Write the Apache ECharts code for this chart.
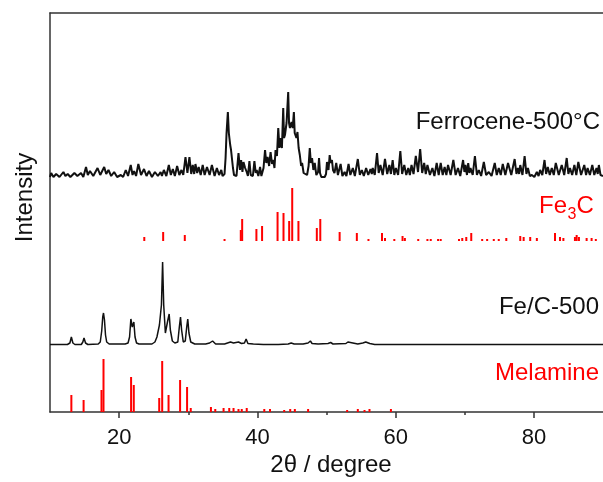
<!DOCTYPE html>
<html>
<head>
<meta charset="utf-8">
<script src="https://cdn.jsdelivr.net/npm/echarts@6/dist/echarts.min.js"></script>
<style>html,body{margin:0;padding:0;background:#fff}#c{width:603px;height:482px}</style>
</head>
<body>
<div id="c"></div>
<script>
// ---- data (2θ in degrees, intensity in arbitrary units above each pattern's own baseline) ----
const majorTicks = [20, 40, 60, 80];
const minorTicks = [30, 50, 70];

const ferroceneData = [[10.00,1],[10.07,2],[10.17,5],[10.50,1],[10.89,4],[11.37,1],[11.94,6],[12.23,2],[12.56,4],[12.95,1],[13.53,5],[13.96,2],[14.49,5],[14.82,1],[15.21,11],[15.47,3],[15.78,7],[16.26,2],[16.88,10],[17.27,3],[17.84,11],[18.13,4],[18.46,8],[18.85,2],[19.28,6],[19.71,1],[20.24,3],[20.58,1],[20.96,8],[21.29,2],[21.68,13],[21.94,3],[22.16,7],[22.45,2],[22.78,14],[23.17,3],[23.60,9],[23.96,2],[24.32,7],[24.75,1],[25.18,6],[25.61,2],[26.00,6],[26.19,2],[26.47,8],[26.83,2],[27.19,13],[27.48,3],[27.77,9],[28.06,2],[28.39,12],[28.71,3],[29.02,8],[29.28,3],[29.60,21],[29.88,5],[30.17,21],[30.43,4],[30.65,13],[30.86,4],[31.04,14],[31.29,5],[31.51,11],[31.80,3],[32.09,13],[32.37,3],[32.71,11],[33.09,3],[33.42,13],[33.81,2],[34.14,10],[34.46,3],[34.78,8],[34.96,2],[35.25,4],[35.40,20],[35.54,45],[35.73,66],[35.87,45],[36.07,33],[36.19,28],[36.30,26],[36.47,10],[36.62,3],[36.79,1],[36.98,2],[37.27,25],[37.48,8],[37.65,18],[37.84,6],[37.99,16],[38.23,10],[38.46,6],[38.63,2],[38.85,17],[39.04,3],[39.18,3],[39.35,2],[39.57,17],[39.76,5],[39.90,8],[40.14,2],[40.39,11],[40.58,2],[40.72,3],[40.89,10],[41.11,28],[41.29,15],[41.48,21],[41.70,12],[41.91,26],[42.12,14],[42.30,18],[42.47,10],[42.63,28],[42.83,22],[43.02,50],[43.19,30],[43.35,40],[43.55,30],[43.74,70],[43.86,40],[43.99,43],[44.22,55],[44.46,86],[44.58,55],[44.71,50],[44.82,50],[44.94,56],[45.11,50],[45.28,66],[45.40,45],[45.51,45],[45.65,40],[45.80,46],[45.97,30],[46.14,23],[46.33,12],[46.47,15],[46.69,5],[46.95,6],[47.19,3],[47.41,12],[47.58,30],[47.74,15],[47.91,20],[48.10,8],[48.30,15],[48.53,3],[48.78,6],[48.92,20],[49.06,5],[49.25,1],[49.50,2],[49.74,1],[49.93,4],[50.07,16],[50.29,8],[50.46,23],[50.60,15],[50.79,18],[50.94,8],[51.15,5],[51.41,15],[51.65,3],[52.04,14],[52.30,2],[52.62,6],[52.88,2],[53.19,14],[53.45,3],[53.81,10],[54.10,2],[54.53,19],[54.82,3],[55.11,8],[55.40,2],[55.73,10],[56.04,3],[56.36,9],[56.55,4],[56.69,10],[56.98,3],[57.31,25],[57.55,5],[57.80,13],[58.13,3],[58.46,19],[58.78,4],[59.09,13],[59.32,4],[59.57,18],[59.81,3],[60.04,10],[60.36,3],[60.68,27],[60.94,4],[61.25,13],[61.54,3],[61.83,10],[62.06,3],[62.30,13],[62.59,4],[62.92,22],[63.24,6],[63.55,29],[63.84,5],[64.13,15],[64.36,4],[64.60,13],[64.96,3],[65.32,10],[65.61,2],[65.94,15],[66.23,3],[66.52,15],[66.81,3],[67.09,11],[67.34,3],[67.58,13],[67.96,3],[68.35,18],[68.68,3],[69.02,10],[69.35,2],[69.76,18],[69.95,6],[70.11,13],[70.32,3],[70.50,15],[70.68,5],[70.83,10],[71.15,3],[71.47,22],[71.76,3],[72.04,8],[72.37,2],[72.76,16],[73.09,3],[73.48,6],[73.88,2],[74.34,15],[74.63,3],[74.92,10],[75.21,3],[75.50,14],[75.87,3],[76.26,15],[76.73,3],[77.22,19],[77.48,4],[77.70,10],[77.87,4],[78.03,13],[78.35,3],[78.66,22],[78.92,4],[79.14,10],[79.42,2],[79.71,3],[80.07,1],[80.43,6],[80.68,2],[80.91,8],[81.22,3],[81.54,18],[81.77,4],[82.01,11],[82.30,3],[82.59,10],[82.88,3],[83.17,15],[83.60,3],[84.03,13],[84.39,3],[84.75,20],[84.99,4],[85.22,10],[85.54,3],[85.86,13],[86.14,3],[86.43,16],[86.83,3],[87.29,13],[87.55,3],[87.77,10],[88.10,3],[88.45,13],[88.74,3],[89.06,10],[89.24,4],[89.40,13],[89.64,3],[90.00,2]];

const feC500Data = [[10.00,0.5],[12.52,0.5],[12.88,2],[13.09,8],[13.31,2],[13.60,0.5],[14.53,0.5],[14.75,3],[14.92,7],[15.14,2],[15.47,0.5],[16.98,1],[17.27,3],[17.48,14],[17.63,28],[17.74,32],[17.88,25],[18.03,10],[18.20,3],[18.56,1],[20.86,1],[21.29,2],[21.51,8],[21.70,26],[21.90,18],[22.13,23],[22.30,8],[22.52,2],[22.88,1],[24.75,1],[25.18,3],[25.47,8],[25.83,20],[26.12,40],[26.29,83],[26.45,40],[26.69,12],[26.91,10],[27.05,25],[27.24,31],[27.41,15],[27.70,4],[28.06,2],[28.49,3],[28.71,18],[28.88,28],[29.04,15],[29.28,3],[29.57,4],[29.78,18],[29.93,26],[30.10,12],[30.36,3],[30.94,1],[32.52,1],[33.09,2],[33.52,4],[33.96,1],[35.25,1],[35.68,2],[36.11,3],[36.55,2],[36.83,2],[37.27,3],[37.70,1.5],[38.13,2],[38.37,6],[38.63,1.5],[39.42,1],[40.86,0.5],[43.02,0.5],[44.46,1],[44.89,2],[45.32,1],[46.61,1],[47.33,2],[47.67,4],[47.91,1.5],[48.78,1],[50.22,1.5],[50.60,2.5],[50.94,1],[52.81,1.5],[53.10,3],[53.38,1],[54.53,1],[55.25,2],[55.68,3],[56.26,1.5],[56.98,0.5],[60.29,0.5],[66.04,0.5],[71.80,0.5],[77.55,0.5],[83.31,0.5],[90.00,0.5]];

const fe3cSticks = [[23.64,4],[26.37,9],[29.50,6],[35.25,2],[37.60,11],[37.80,22],[39.86,12],[40.68,15],[42.92,29],[43.78,28],[44.60,20],[45.04,53],[45.94,20],[48.60,13],[49.10,22],[51.90,9],[54.39,8],[56.07,2],[58.03,8],[58.46,3],[59.81,2],[61.00,5],[61.34,3],[63.27,2],[64.60,2],[65.08,2],[66.14,2],[66.52,2],[69.17,2],[69.64,3],[70.22,4],[70.94,8],[72.52,2],[73.24,2],[74.20,2],[74.92,2],[76.01,3],[78.03,5],[78.52,4],[79.47,4],[80.43,3],[83.06,8],[83.78,4],[84.27,3],[85.94,4],[86.19,6],[86.52,4],[87.63,3],[88.35,3],[88.96,2]];

const melamineSticks = [[13.09,17],[14.86,12],[17.45,22],[17.74,53],[21.73,35],[22.12,27],[25.80,14],[26.23,51],[27.15,17],[28.82,32],[29.83,25],[30.36,4],[33.28,5],[33.91,3],[35.11,4],[35.93,4],[36.55,4],[37.27,3],[37.74,3],[38.46,4],[41.00,3],[41.83,3],[43.88,2],[44.75,3],[45.42,3],[47.34,3],[52.99,2],[54.53,3],[55.50,2],[56.22,3],[59.32,3]];

// vertical offsets used to stack the patterns
const offsetFerrocene = 234;
const offsetFe3C = 171;
const offsetFeC = 67;
const offsetMelamine = 0;

const FONT = '"Liberation Sans", Arial, Helvetica, sans-serif';
const RED = '#ff0000';
const INK = '#111111';

function shift(arr, off) { return arr.map(d => [d[0], d[1] + off]); }
function sticks(arr, off) { return arr.map(d => [d[0], off + d[1], off]); }

function stickRender(color) {
  return function (params, api) {
    const top = api.coord([api.value(0), api.value(1)]);
    const bot = api.coord([api.value(0), api.value(2)]);
    return {
      type: 'line',
      shape: { x1: top[0], y1: top[1], x2: bot[0], y2: bot[1] },
      style: { stroke: color, lineWidth: 2 }
    };
  };
}

const chart = echarts.init(document.getElementById('c'), null, { renderer: 'canvas' });
const axisColor = '#333';
chart.setOption({
  animation: false,
  backgroundColor: '#fff',
  grid: { left: 50, right: -4, top: 13, bottom: 70, containLabel: false },
  xAxis: [
    {
      type: 'value', position: 'bottom', min: 10, max: 90, interval: 10,
      axisLine: { show: true, onZero: false, lineStyle: { color: axisColor, width: 1.5 } },
      axisTick: { show: true, inside: false, length: 6, customValues: majorTicks, lineStyle: { color: axisColor, width: 1.5 } },
      axisLabel: { show: true, customValues: majorTicks, margin: 15, color: INK, fontSize: 22, fontFamily: FONT },
      splitLine: { show: false }
    },
    {
      type: 'value', position: 'bottom', min: 10, max: 90, interval: 10,
      axisLine: { show: false, onZero: false },
      axisTick: { show: true, inside: false, length: 3, customValues: minorTicks, lineStyle: { color: axisColor, width: 1.5 } },
      axisLabel: { show: false },
      splitLine: { show: false }
    },
    {
      type: 'value', position: 'top', min: 10, max: 90, interval: 10,
      axisLine: { show: true, onZero: false, lineStyle: { color: axisColor, width: 1.5 } },
      axisTick: { show: false }, axisLabel: { show: false }, splitLine: { show: false }
    }
  ],
  yAxis: {
    type: 'value', min: 0, max: 399,
    axisLine: { show: true, onZero: false, lineStyle: { color: axisColor, width: 1.5 } },
    axisTick: { show: false }, axisLabel: { show: false }, splitLine: { show: false }
  },
  series: [
    { name: 'Ferrocene-500°C', type: 'line', data: shift(ferroceneData, offsetFerrocene), showSymbol: false, symbol: 'none',
      lineStyle: { color: INK, width: 2 }, clip: true },
    { name: 'Fe3C', type: 'custom', data: sticks(fe3cSticks, offsetFe3C), renderItem: stickRender(RED), clip: true },
    { name: 'Fe/C-500', type: 'line', data: shift(feC500Data, offsetFeC), showSymbol: false, symbol: 'none',
      lineStyle: { color: INK, width: 1.5 }, clip: true },
    { name: 'Melamine', type: 'custom', data: sticks(melamineSticks, offsetMelamine), renderItem: stickRender(RED), clip: true }
  ],
  graphic: [
    { type: 'text', x: 25.5, y: 197.5, rotation: Math.PI / 2,
      style: { text: 'Intensity', font: '24px ' + FONT, fill: INK, align: 'center', verticalAlign: 'middle' } },
    { type: 'text', x: 331, y: 465.5,
      style: { text: '2θ / degree', font: '24px ' + FONT, fill: INK, align: 'center', verticalAlign: 'middle' } },
    { type: 'text', x: 600, y: 110.5,
      style: { text: 'Ferrocene-500°C', font: '24px ' + FONT, fill: INK, align: 'right', verticalAlign: 'top' } },
    { type: 'text', x: 567, y: 194,
      style: { text: 'Fe', font: '24px ' + FONT, fill: RED, align: 'right', verticalAlign: 'top' } },
    { type: 'text', x: 567.5, y: 207,
      style: { text: '3', font: '16px ' + FONT, fill: RED, align: 'left', verticalAlign: 'top' } },
    { type: 'text', x: 576.5, y: 194,
      style: { text: 'C', font: '24px ' + FONT, fill: RED, align: 'left', verticalAlign: 'top' } },
    { type: 'text', x: 599, y: 295.5,
      style: { text: 'Fe/C-500', font: '24px ' + FONT, fill: INK, align: 'right', verticalAlign: 'top' } },
    { type: 'text', x: 599, y: 361.5,
      style: { text: 'Melamine', font: '24px ' + FONT, fill: RED, align: 'right', verticalAlign: 'top' } }
  ]
});
</script>
</body>
</html>
